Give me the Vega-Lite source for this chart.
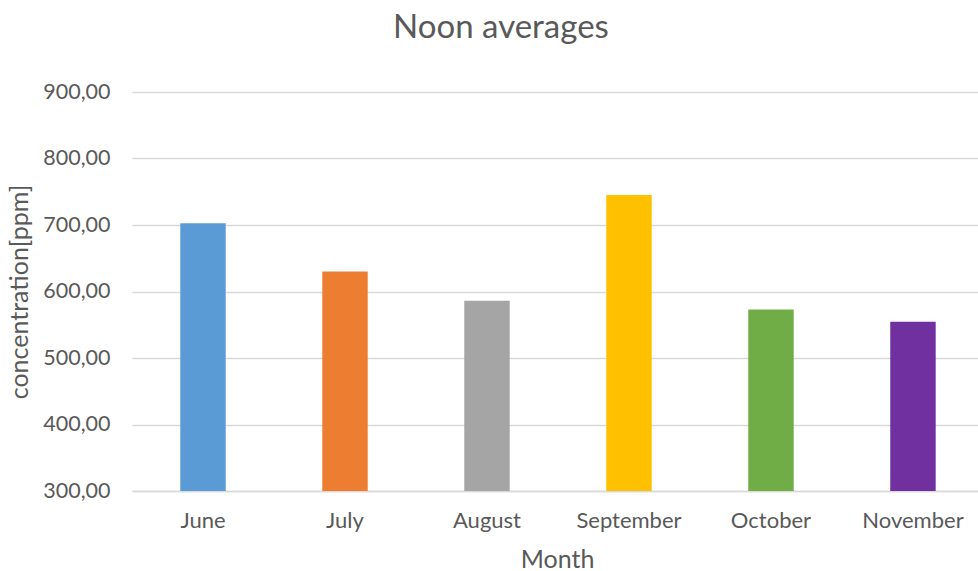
{
  "$schema": "https://vega.github.io/schema/vega-lite/v6.json",
  "width": 846,
  "height": 399,
  "autosize": {"type": "none"},
  "padding": {"left": 132, "top": 92, "right": 0, "bottom": 80},
  "background": "white",
  "title": {
    "text": "Noon averages",
    "fontSize": 33,
    "font": "Lato",
    "fontWeight": "normal",
    "color": "#595959",
    "anchor": "middle",
    "offset": 36,
    "dx": -54
  },
  "config": {
    "locale": {
      "number": {"decimal": ",", "thousands": ".", "grouping": [3], "currency": ["", " €"]}
    },
    "view": {"stroke": null},
    "font": "Lato"
  },
  "data": {
    "values": [
      {"Month": "June", "value": 702.5},
      {"Month": "July", "value": 630},
      {"Month": "August", "value": 586},
      {"Month": "September", "value": 745},
      {"Month": "October", "value": 573},
      {"Month": "November", "value": 554.5}
    ]
  },
  "mark": {"type": "bar", "clip": true},
  "encoding": {
    "x": {
      "field": "Month",
      "type": "nominal",
      "sort": null,
      "scale": {"paddingInner": 0.68, "paddingOuter": 0.319, "align": 0.533},
      "axis": {
        "title": "Month",
        "titleFontSize": 25,
        "titleFontWeight": "normal",
        "titleColor": "#595959",
        "titlePadding": 16,
        "titleX": 425,
        "labelAngle": 0,
        "labelFontSize": 22,
        "labelColor": "#595959",
        "labelPadding": 19,
        "ticks": false,
        "domainColor": "#d9d9d9",
        "domainWidth": 1.5
      }
    },
    "y": {
      "field": "value",
      "type": "quantitative",
      "scale": {"domain": [300, 900], "nice": false, "zero": false},
      "axis": {
        "title": "concentration[ppm]",
        "titleFontSize": 25,
        "titleFontWeight": "normal",
        "titleColor": "#595959",
        "titlePadding": 10,
        "format": ".2f",
        "values": [300, 400, 500, 600, 700, 800, 900],
        "labelFontSize": 21.5,
        "labelColor": "#595959",
        "labelPadding": 22,
        "ticks": false,
        "domain": false,
        "gridColor": "#d9d9d9",
        "gridWidth": 1.5
      }
    },
    "color": {
      "field": "Month",
      "type": "nominal",
      "sort": null,
      "scale": {
        "domain": ["June", "July", "August", "September", "October", "November"],
        "range": ["#5B9BD5", "#ED7D31", "#A5A5A5", "#FFC000", "#70AD47", "#7030A0"]
      },
      "legend": null
    }
  }
}
